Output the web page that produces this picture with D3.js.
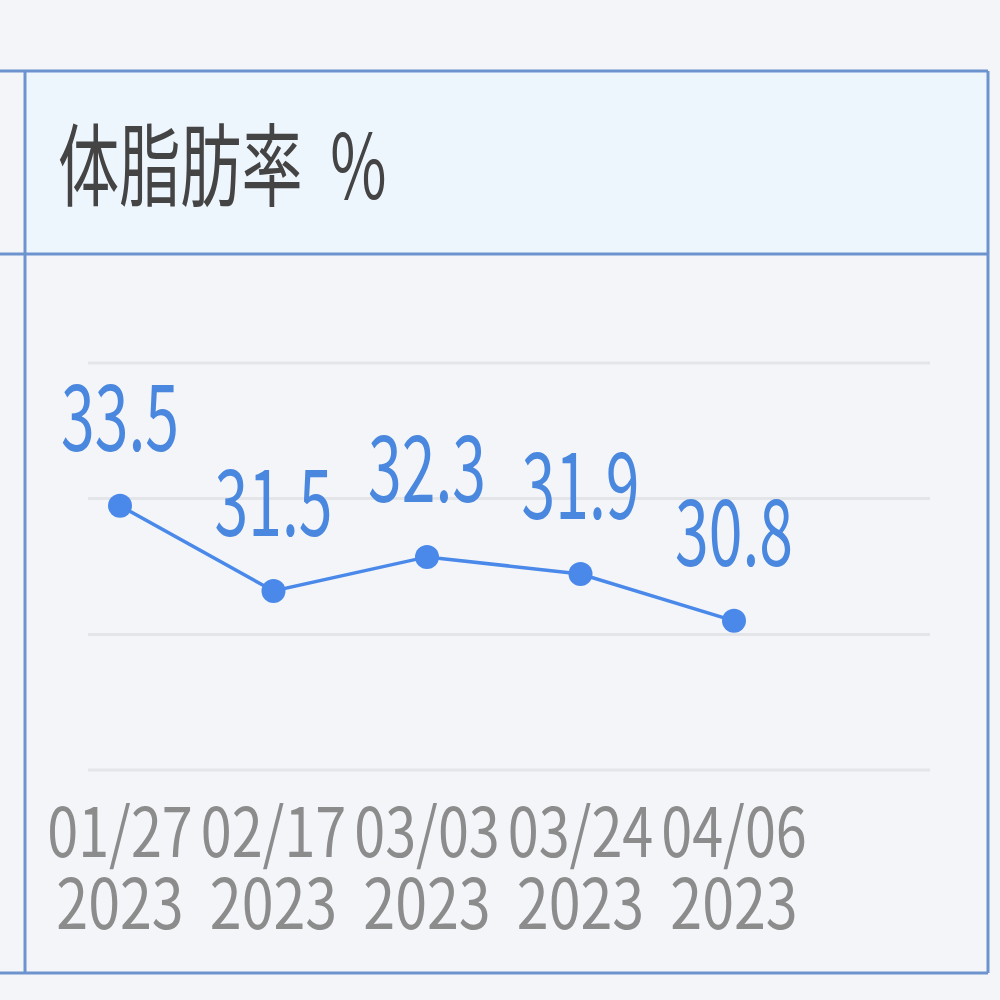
<!DOCTYPE html>
<html>
<head>
<meta charset="utf-8">
<script src="https://cdn.jsdelivr.net/npm/d3@7"></script>
<style>
  html, body { margin: 0; padding: 0; background: #f4f5f9; }
  svg { display: block; }
</style>
</head>
<body>
<svg width="1000" height="1000"></svg>
<script>
const title = "体脂肪率\u00a0\u00a0%";
const dates = ["01/27", "02/17", "03/03", "03/24", "04/06"];
const years = ["2023", "2023", "2023", "2023", "2023"];
const values = [33.5, 31.5, 32.3, 31.9, 30.8];
const gridValues = [27.3, 30.48, 33.67, 36.85];

const svg = d3.select("svg");
const font = "'Noto Sans CJK JP', 'Noto Sans', sans-serif";

// panel
svg.append("rect").attr("x", 0).attr("y", 0).attr("width", 1000).attr("height", 1000).attr("fill", "#f4f5f9");
svg.append("rect").attr("x", 25).attr("y", 71).attr("width", 963).attr("height", 183).attr("fill", "#eef6fd");
svg.append("rect").attr("x", 25).attr("y", 254).attr("width", 963).attr("height", 719).attr("fill", "#f3f5f9");

const border = "#6d93cf";
[[0, 71, 988, 71], [0, 254, 988, 254], [0, 973, 988, 973], [25, 71, 25, 973], [988, 71, 988, 973]]
  .forEach(([x1, y1, x2, y2]) => svg.append("line")
    .attr("x1", x1).attr("y1", y1).attr("x2", x2).attr("y2", y2)
    .attr("stroke", border).attr("stroke-width", 3));

svg.append("text")
  .attr("transform", "translate(58,199) scale(0.68,1)")
  .attr("font-family", font)
  .attr("font-size", 90)
  .attr("fill", "#444")
  .text(title);

// chart
const x = d3.scalePoint().domain(dates).range([120, 734]);
const y = d3.scaleLinear().domain([27.3, 36.85]).range([770, 363]);

svg.append("g").selectAll("line")
  .data(gridValues)
  .enter().append("line")
  .attr("x1", 88).attr("x2", 930)
  .attr("y1", d => y(d)).attr("y2", d => y(d))
  .attr("stroke", "#e4e5e9").attr("stroke-width", 3);

const pts = dates.map((d, i) => ({ date: d, year: years[i], value: values[i] }));

svg.append("path")
  .datum(pts)
  .attr("fill", "none")
  .attr("stroke", "#4a89ea")
  .attr("stroke-width", 3.5)
  .attr("d", d3.line().x(d => x(d.date)).y(d => y(d.value)));

svg.append("g").selectAll("circle")
  .data(pts)
  .enter().append("circle")
  .attr("cx", d => x(d.date))
  .attr("cy", d => y(d.value))
  .attr("r", 12)
  .attr("fill", "#4a89ea");

svg.append("g").selectAll("text")
  .data(pts)
  .enter().append("text")
  .attr("transform", d => `translate(${x(d.date)},${y(d.value) - 55}) scale(0.66,1)`)
  .attr("text-anchor", "middle")
  .attr("font-family", font)
  .attr("font-size", 92)
  .attr("fill", "#4a87de")
  .text(d => d.value);

// x labels: date over year in one text
const xl = svg.append("g").selectAll("text")
  .data(pts)
  .enter().append("text")
  .attr("transform", d => `translate(${x(d.date)},857) scale(0.82,1)`)
  .attr("text-anchor", "middle")
  .attr("font-family", font)
  .attr("font-size", 68)
  .attr("fill", "#8c8c8c");

xl.append("tspan").attr("x", 0).attr("y", 0).text(d => d.date);
xl.append("tspan").attr("x", 0).attr("y", 72).attr("font-size", 70).text(d => d.year);
</script>
</body>
</html>
